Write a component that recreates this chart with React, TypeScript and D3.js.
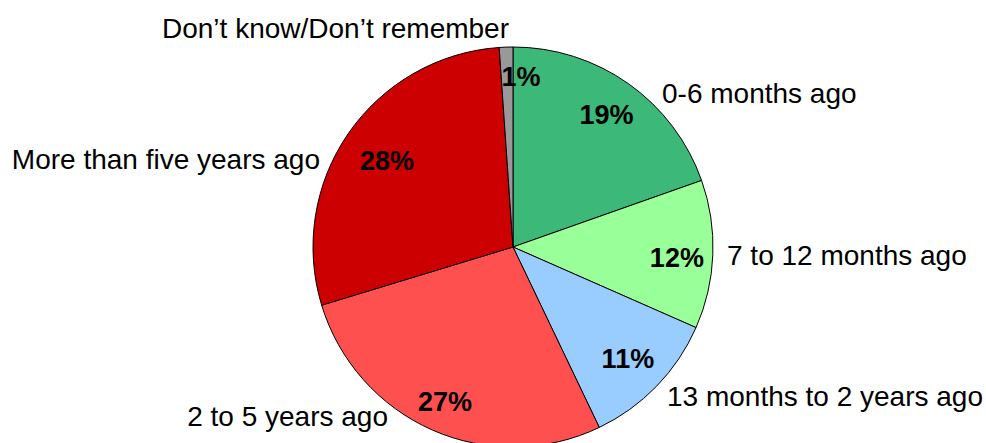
import React from "react";
import * as d3 from "d3";

const categories = [
  "0-6 months ago",
  "7 to 12 months ago",
  "13 months to 2 years ago",
  "2 to 5 years ago",
  "More than five years ago",
  "Don\u2019t know/Don\u2019t remember",
];
const values = [19.6, 12.0, 11.3, 27.4, 28.6, 1.1];
const pctLabels = ["19%", "12%", "11%", "27%", "28%", "1%"];
const colors = ["#3CB878", "#99FF99", "#99CCFF", "#FF5050", "#CC0000", "#999999"];

// layout (not data)
const W = 986, H = 443;
const CX = 513, CY = 247, R = 200;
const catPos: [number, number, string][] = [
  [662, 103, "start"],
  [727, 265, "start"],
  [667, 406, "start"],
  [388, 426, "end"],
  [320, 169, "end"],
  [162, 38, "start"],
];
const pctRadius = [162, 164, 160, 169, 153, 171];
const pctNudge: [number, number][] = [[0, 0], [0, 4], [0, 0], [0, 0], [0, 0], [14, 0]];

export default function App() {
  const pie = d3.pie<number>().sort(null).value((d) => d);
  const arcs = pie(values);
  const arc = d3.arc<d3.PieArcDatum<number>>().innerRadius(0).outerRadius(R);
  return (
    <svg width={W} height={H} style={{ position: "absolute", left: 0, top: 0 }}
      fontFamily="'Liberation Sans', Arial, sans-serif">
      <g transform={`translate(${CX},${CY})`}>
        {arcs.map((a, i) => (
          <path key={i} d={arc(a) || ""} fill={colors[i]} stroke="#000" strokeWidth={1} />
        ))}
        {arcs.map((a, i) => {
          const m = (a.startAngle + a.endAngle) / 2;
          const x = Math.sin(m) * pctRadius[i] + pctNudge[i][0];
          const y = -Math.cos(m) * pctRadius[i] + pctNudge[i][1];
          return (
            <text key={i} x={x} y={y} dy="0.36em" textAnchor="middle"
              fontWeight="bold" fontSize={27} fill="#000">{pctLabels[i]}</text>
          );
        })}
      </g>
      {categories.map((c, i) => (
        <text key={i} x={catPos[i][0]} y={catPos[i][1]} textAnchor={catPos[i][2] as any}
          fontSize={28} fill="#000">{c}</text>
      ))}
    </svg>
  );
}
